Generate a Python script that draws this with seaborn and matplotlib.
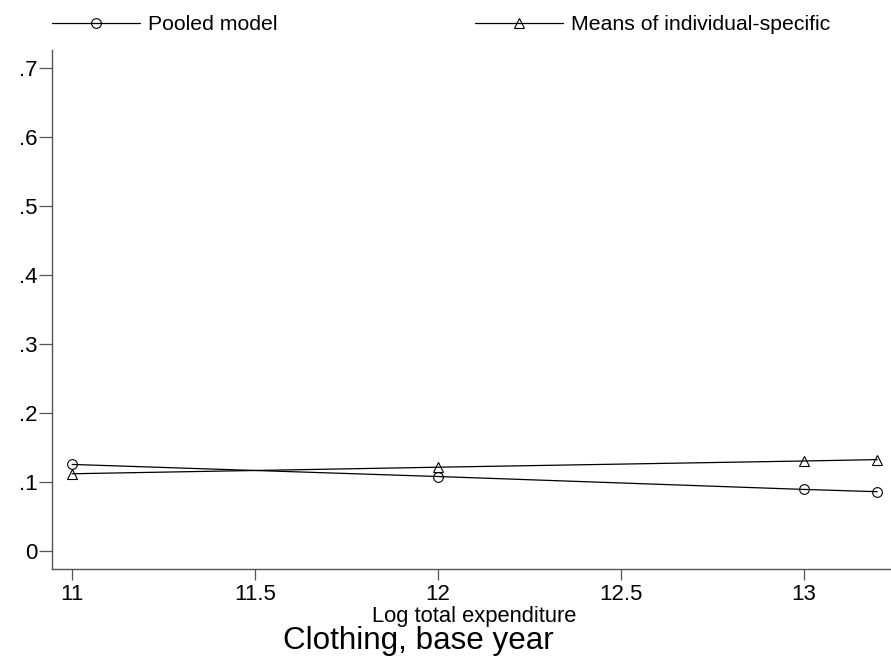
import matplotlib
matplotlib.use("Agg")
import matplotlib.pyplot as plt
import matplotlib.ticker as mticker
import numpy as np
import pandas as pd
import seaborn as sns

# Log total expenditure grid
log_exp = [11.0, 12.0, 13.0, 13.2]
# Budget share of clothing, two estimators
pooled = [0.1255, 0.108, 0.0893, 0.086]
indiv_means = [0.112, 0.1215, 0.1305, 0.1325]
series_names = ["Pooled model", "Means of individual-specific"]

y_ticks = [0, 0.1, 0.2, 0.3, 0.4, 0.5, 0.6, 0.7]
x_ticks = [11, 11.5, 12, 12.5, 13]

df = pd.DataFrame({
    "x": log_exp * 2,
    "y": pooled + indiv_means,
    "series": [series_names[0]] * len(log_exp) + [series_names[1]] * len(log_exp),
})

sns.set_theme(style="ticks")
plt.rcParams["font.family"] = ["Liberation Sans", "DejaVu Sans"]
plt.rcParams["text.color"] = "black"

fig = plt.figure(figsize=(8.91, 6.64), dpi=100)
ax = fig.add_axes([52 / 891, 1 - 569 / 664, (890 - 52) / 891, (569 - 50) / 664])

sns.lineplot(
    data=df, x="x", y="y", style="series",
    markers={series_names[0]: "o", series_names[1]: "^"},
    dashes=False, color="black", linewidth=0.9,
    markersize=7, markerfacecolor="none", markeredgecolor="black",
    markeredgewidth=0.8, legend=False, ax=ax,
)

ax.set_xlim(10.945, 13.235)
ax.set_ylim(-0.026, 0.726)
ax.set_xticks(x_ticks)
ax.set_yticks(y_ticks)
ax.xaxis.set_major_formatter(mticker.FuncFormatter(lambda v, p: f"{v:g}"))
ax.yaxis.set_major_formatter(
    mticker.FuncFormatter(lambda v, p: "0" if abs(v) < 1e-9 else f"{v:.1f}".lstrip("0")))

for side in ["top", "right"]:
    ax.spines[side].set_visible(False)
for side in ["left", "bottom"]:
    ax.spines[side].set_color("#555555")
    ax.spines[side].set_linewidth(1.0)

ax.tick_params(axis="y", direction="out", length=9.5, width=0.9, color="#555555",
               labelsize=16, pad=1, labelcolor="black", left=True)
ax.tick_params(axis="x", direction="out", length=8, width=0.9, color="#555555",
               labelsize=16, pad=3, labelcolor="black", bottom=True)
ax.set_xlabel("")
ax.set_ylabel("")

fig.text(474.5 / 891, 1 - 622 / 664, "Log total expenditure", ha="center", va="baseline",
         fontsize=15.8)
fig.text(418 / 891, 1 - 649 / 664, "Clothing, base year", ha="center", va="baseline",
         fontsize=22.6)

handles = ax.get_lines()[:2]
fig.legend(handles, series_names, loc="center left", ncol=2,
           bbox_to_anchor=(52 / 891, 1 - 25 / 664), frameon=False, fontsize=15.3,
           handlelength=4.14, handletextpad=0.38, columnspacing=9.3, numpoints=1,
           borderpad=0, borderaxespad=0)

fig.savefig("out.png", dpi=100, facecolor="white")
